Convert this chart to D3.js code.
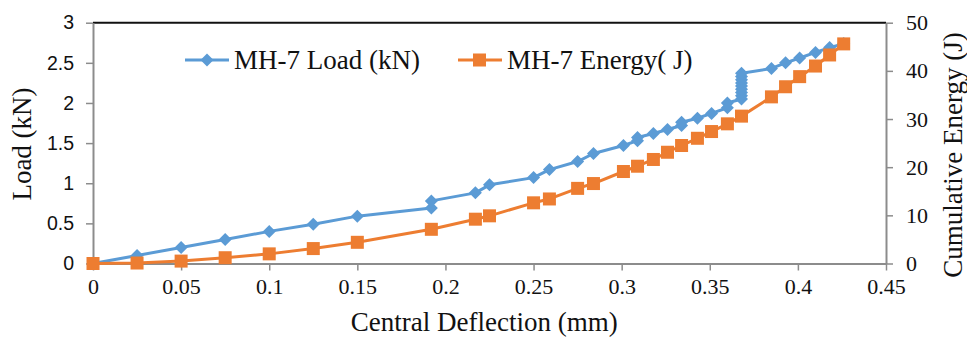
<!DOCTYPE html>
<html>
<head>
<meta charset="utf-8">
<script src="https://cdn.jsdelivr.net/npm/d3@7"></script>
<style>
  body { margin: 0; background: #fff; }
  svg { display: block; }
  .serif { font-family: "Liberation Serif", "Times New Roman", serif; fill: #111; }
  .sans { font-family: "Liberation Sans", Arial, sans-serif; fill: #111; }
</style>
</head>
<body>
<div id="chart"></div>
<script>
// load series (primary axis), deflection in mm, load in kN
var loadDefl = [0, 0.025, 0.05, 0.075, 0.1, 0.125, 0.15, 0.192, 0.192, 0.217, 0.225, 0.25, 0.259, 0.275, 0.284,
  0.301, 0.309, 0.309, 0.318, 0.326, 0.334, 0.334, 0.343, 0.351, 0.36, 0.36,
  0.368, 0.368, 0.368, 0.368, 0.368, 0.368, 0.368, 0.368, 0.368,
  0.385, 0.393, 0.401, 0.41, 0.418, 0.426];
var loadVals = [0, 0.1, 0.2, 0.3, 0.4, 0.49, 0.59, 0.69, 0.78, 0.88, 0.98, 1.07, 1.17, 1.27, 1.37,
  1.47, 1.53, 1.57, 1.62, 1.67, 1.72, 1.76, 1.81, 1.87, 1.94, 2.0,
  2.05, 2.09, 2.13, 2.17, 2.21, 2.25, 2.29, 2.33, 2.37,
  2.43, 2.5, 2.56, 2.63, 2.69, 2.74];

// energy series (secondary axis), J
var energyDefl = [0, 0.025, 0.05, 0.075, 0.1, 0.125, 0.15, 0.192, 0.217, 0.225, 0.25, 0.259, 0.275, 0.284,
  0.301, 0.309, 0.318, 0.326, 0.334, 0.343, 0.351, 0.36, 0.368, 0.385, 0.393, 0.401, 0.41, 0.418, 0.426];
var energyVals = [0, 0.1, 0.5, 1.2, 2.0, 3.1, 4.4, 7.1, 9.2, 9.9, 12.6, 13.4, 15.6, 16.6,
  19.1, 20.2, 21.6, 23.1, 24.5, 26.0, 27.4, 29.0, 30.6, 34.6, 36.7, 38.8, 41.0, 43.3, 45.6];

var xTicks = [0, 0.05, 0.1, 0.15, 0.2, 0.25, 0.3, 0.35, 0.4, 0.45];
var loadTicks = [0, 0.5, 1, 1.5, 2, 2.5, 3];
var energyTicks = [0, 10, 20, 30, 40, 50];
var seriesNames = ["MH-7 Load (kN)", "MH-7 Energy( J)"];

var W = 967, H = 339;
var margin = {top: 22.7, left: 93, right: 81, bottom: 75.5};
var width = W - margin.left - margin.right,
    height = H - margin.top - margin.bottom;
var blue = "#5B9BD5", orange = "#ED7D31", axisGrey = "#8c8c8c";

var svg = d3.select("#chart").append("svg")
  .attr("width", W).attr("height", H);
var g = svg.append("g").attr("transform", "translate(" + margin.left + "," + margin.top + ")");

var x = d3.scaleLinear().domain([0, 0.45]).range([0, width]);
var yL = d3.scaleLinear().domain([0, 3]).range([height, 0]);
var yR = d3.scaleLinear().domain([0, 50]).range([height, 0]);

// top frame line
g.append("line").attr("x1", 0).attr("x2", width).attr("y1", 0).attr("y2", 0)
  .attr("stroke", "#111").attr("stroke-width", 2);

// axes
var xAxis = g.append("g").attr("transform", "translate(0," + height + ")")
  .call(d3.axisBottom(x).tickValues(xTicks).tickSize(7).tickSizeOuter(0).tickFormat(d3.format("")));
var leftAxis = g.append("g")
  .call(d3.axisLeft(yL).tickValues(loadTicks).tickSize(7).tickSizeOuter(0).tickFormat(d3.format("")));
var rightAxis = g.append("g").attr("transform", "translate(" + width + ",0)")
  .call(d3.axisRight(yR).tickValues(energyTicks).tickSize(7).tickSizeOuter(0));

[xAxis, leftAxis, rightAxis].forEach(function(a) {
  a.select(".domain").attr("stroke", axisGrey).attr("stroke-width", 2);
  a.selectAll(".tick line").attr("stroke", axisGrey).attr("stroke-width", 1.5);
});
xAxis.selectAll(".tick text").attr("class", "serif").attr("font-size", 22).attr("dy", "1.05em").attr("y", 7);
leftAxis.selectAll(".tick text").attr("class", "sans").attr("font-size", 19.5).attr("x", -19);
rightAxis.selectAll(".tick text").attr("class", "serif").attr("font-size", 22).attr("x", 20);

// axis titles
svg.append("text").attr("class", "serif").attr("font-size", 27)
  .attr("x", margin.left + x(0.222)).attr("y", 331).attr("text-anchor", "middle")
  .text("Central Deflection (mm)");
svg.append("text").attr("class", "serif").attr("font-size", 27)
  .attr("transform", "translate(31,144) rotate(-90)").attr("text-anchor", "middle")
  .text("Load (kN)");
svg.append("text").attr("class", "serif").attr("font-size", 27)
  .attr("transform", "translate(962,155) rotate(-90)").attr("text-anchor", "middle")
  .text("Cumulative Energy (J)");

// series
var loadData = loadDefl.map(function(d, i) { return [d, loadVals[i]]; });
var energyData = energyDefl.map(function(d, i) { return [d, energyVals[i]]; });

var diamond = function(r) { return "M0," + (-r) + "L" + r + ",0L0," + r + "L" + (-r) + ",0Z"; };

g.append("path").datum(loadData)
  .attr("fill", "none").attr("stroke", blue).attr("stroke-width", 3).attr("stroke-linejoin", "round")
  .attr("d", d3.line().x(function(d) { return x(d[0]); }).y(function(d) { return yL(d[1]); }));
g.selectAll(".dia").data(loadData).enter().append("path")
  .attr("class", "dia")
  .attr("transform", function(d) { return "translate(" + x(d[0]) + "," + yL(d[1]) + ")"; })
  .attr("d", diamond(6.5)).attr("fill", blue);

g.append("path").datum(energyData)
  .attr("fill", "none").attr("stroke", orange).attr("stroke-width", 3).attr("stroke-linejoin", "round")
  .attr("d", d3.line().x(function(d) { return x(d[0]); }).y(function(d) { return yR(d[1]); }));
g.selectAll(".sq").data(energyData).enter().append("rect")
  .attr("class", "sq")
  .attr("x", function(d) { return x(d[0]) - 6.5; })
  .attr("y", function(d) { return yR(d[1]) - 6.5; })
  .attr("width", 13).attr("height", 13).attr("fill", orange);

// legend
var legend = svg.append("g");
var lg1 = legend.append("g").attr("transform", "translate(185,60)");
lg1.append("line").attr("x1", 0).attr("x2", 44).attr("stroke", blue).attr("stroke-width", 3);
lg1.append("path").attr("transform", "translate(22,0)").attr("d", diamond(6.5)).attr("fill", blue);
lg1.append("text").attr("class", "serif").attr("font-size", 27).attr("x", 49).attr("y", 9).text(seriesNames[0]);

var lg2 = legend.append("g").attr("transform", "translate(458,60)");
lg2.append("line").attr("x1", 0).attr("x2", 44).attr("stroke", orange).attr("stroke-width", 3);
lg2.append("rect").attr("x", 15).attr("y", -6.5).attr("width", 13).attr("height", 13).attr("fill", orange);
lg2.append("text").attr("class", "serif").attr("font-size", 27).attr("x", 49).attr("y", 9).text(seriesNames[1]);
</script>
</body>
</html>
